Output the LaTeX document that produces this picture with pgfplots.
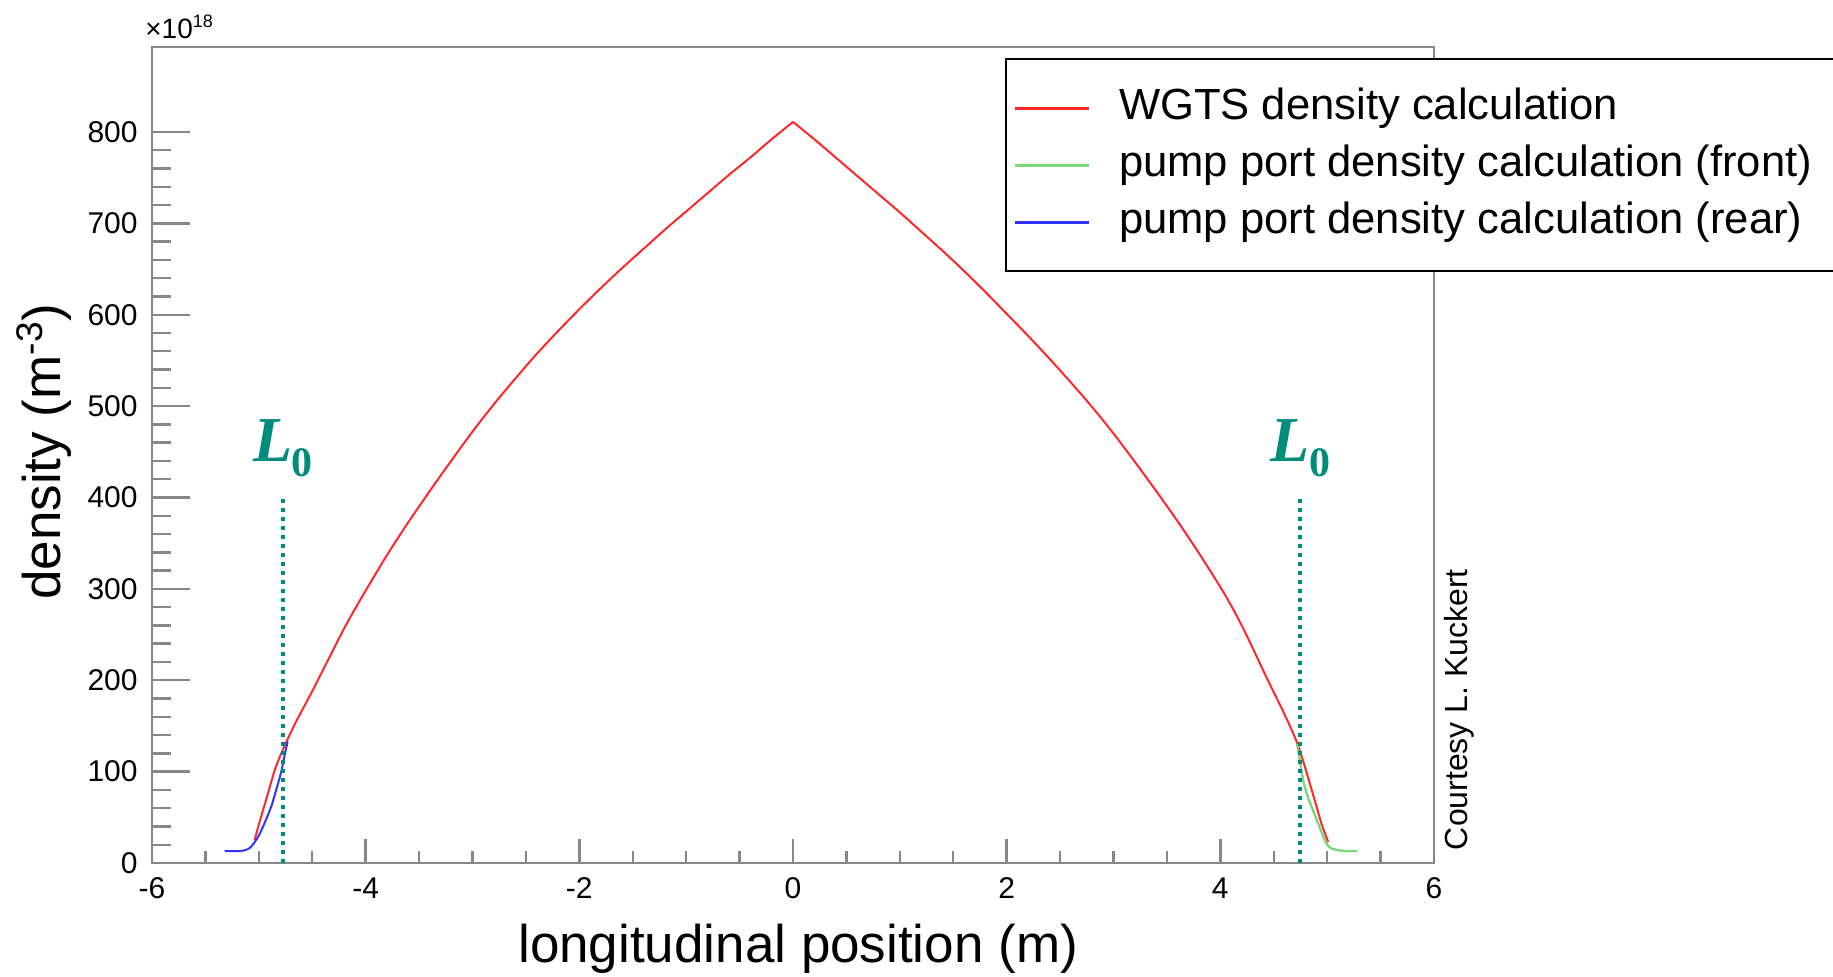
\documentclass[border=0pt]{standalone}
\usepackage{fontspec}
\setmainfont{Liberation Sans}
\newfontfamily\serifL{Liberation Serif}
\usepackage{pgfplots}
\usepackage{pgfplotstable}
\pgfplotsset{compat=1.18}

\definecolor{axgray}{RGB}{135,135,135}
\definecolor{wgtsred}{RGB}{255,40,40}
\definecolor{frontgreen}{RGB}{120,215,120}
\definecolor{rearblue}{RGB}{50,50,255}
\definecolor{lteal}{RGB}{0,140,125}

\newcommand{\Lzero}{{\fontsize{32}{32}\selectfont\serifL\bfseries\itshape L}\kern-0.5pt{\fontsize{21}{21}\selectfont\serifL\bfseries\raisebox{-7.5pt}{0}}}

% WGTS density (units of 1e18 m^-3), left branch
\pgfplotstableread{
x y
-5.04 25
-5.00 42
-4.96 58
-4.90 82
-4.85 102
-4.79 120
-4.72 138
-4.65 155
-4.60 166
-4.50 188
-4.40 211
-4.30 234
-4.20 257
-4.10 278
-4.00 298
-3.80 337
-3.60 373
-3.40 407
-3.20 440
-3.00 472
-2.80 502
-2.60 530
-2.40 557
-2.20 582
-2.00 606
-1.80 629
-1.60 651
-1.40 672
-1.20 693
-1.00 713
-0.80 733
-0.60 753
-0.40 772
-0.20 792
0.00 811
}\wgtsleft

% WGTS density, right branch
\pgfplotstableread{
x y
0.00 811
0.20 792
0.40 772
0.60 752
0.80 732
1.00 712
1.20 691
1.40 670
1.60 648
1.80 625
2.00 601
2.20 577
2.40 552
2.60 526
2.80 499
3.00 470
3.20 439
3.40 407
3.60 374
3.80 339
4.00 302
4.10 282
4.20 260
4.30 236
4.40 211
4.50 187
4.60 163
4.70 137
4.75 121
4.80 102
4.85 82
4.90 62
4.95 42
5.01 23
}\wgtsright

% pump port, front
\pgfplotstableread{
x y
4.72 130
4.75 108
4.78 88
4.82 72
4.87 57
4.92 42
4.96 30
5.00 20
5.04 16
5.10 14
5.18 13
5.28 13
}\front

% pump port, rear
\pgfplotstableread{
x y
-5.32 13
-5.24 13
-5.17 13
-5.13 14
-5.09 16
-5.05 21
-5.00 30
-4.96 40
-4.92 51
-4.88 63
-4.85 75
-4.82 87
-4.79 100
-4.76 117
-4.73 133
}\rear

\begin{document}
\begin{tikzpicture}
\begin{axis}[
    at={(0,0)}, anchor=south west,
    scale only axis,
    width=641pt, height=408pt,
    xmin=-6, xmax=6, ymin=0, ymax=893,
    clip=false,
    scaled y ticks=false,
    xtick={-6,-4,...,6}, minor x tick num=3,
    ytick={0,100,...,800}, minor y tick num=4,
    xtick pos=left, ytick pos=left,
    tick align=inside,
    major tick length=19pt, minor tick length=9.5pt,
    every x tick/.append style={/pgfplots/major tick length=12pt,/pgfplots/minor tick length=6pt},
    every tick/.style={axgray, line width=1.2pt},
    axis line style={axgray, line width=1.3pt},
    /pgf/number format/assume math mode=true,
    ticklabel style={font=\fontsize{15}{15}\selectfont, inner sep=0pt},
    xticklabel style={yshift=-7pt},
    yticklabel style={xshift=-7pt},
    xlabel={longitudinal position (m)},
    ylabel={density (m\textsuperscript{-3})},
    label style={font=\fontsize{26.5}{26.5}\selectfont},
    xlabel style={at={(axis description cs:0.504,-0.105)}, anchor=center},
    ylabel style={at={(axis description cs:-0.0842,0.504)}, anchor=center},
    legend style={
        at={(0.6654,0.9865)}, anchor=north west,
        draw=black, line width=1pt, fill=white,
        inner xsep=3.5pt, inner ysep=13pt,
        font=\fontsize{21.8}{21.8}\selectfont,
        row sep=5.5pt, column sep=14.5pt,
        nodes={inner sep=0pt, text height=17pt, text depth=6pt},
    },
    legend cell align=left,
    legend image code/.code={\draw[#1, line width=1.5pt] (0pt,0pt) -- (37pt,0pt);},
]
\addplot[wgtsred, line width=1pt, smooth] table {\wgtsleft};
\addplot[frontgreen, line width=1pt, smooth] table {\front};
\addplot[rearblue, line width=1pt, smooth] table {\rear};
\legend{WGTS density calculation, pump port density calculation (front)\rule{40pt}{0pt}, pump port density calculation (rear)}
\addplot[wgtsred, line width=1pt, smooth, forget plot] table {\wgtsright};
% redraw the front pump port curve on top of the right branch
\addplot[frontgreen, line width=1pt, smooth, forget plot] table {\front};

\addplot[lteal, line width=2pt, dash pattern=on 2pt off 2.5pt, forget plot] coordinates {(-4.77,0) (-4.77,403)};
\addplot[lteal, line width=2pt, dash pattern=on 2pt off 2.5pt, forget plot] coordinates {(4.75,0) (4.75,403)};
\node[anchor=base, inner sep=0pt, text=lteal] at (axis cs:-4.77,439) {\Lzero};
\node[anchor=base, inner sep=0pt, text=lteal] at (axis cs:4.75,439) {\Lzero};

\node[anchor=base west, inner sep=0pt, font=\fontsize{14}{14}\selectfont, xshift=-3.5pt, yshift=4pt]
    at (rel axis cs:0,1) {×10\raisebox{5.5pt}{\fontsize{9}{9}\selectfont 18}};
\node[rotate=90, anchor=center, inner sep=0pt, font=\fontsize{16}{16}\selectfont]
    at (rel axis cs:1.020,0.188) {Courtesy L. Kuckert};
\end{axis}
\pgfresetboundingbox
\path[use as bounding box] (-76pt,-57pt) rectangle (840.5pt,431.5pt);
\end{tikzpicture}
\end{document}
